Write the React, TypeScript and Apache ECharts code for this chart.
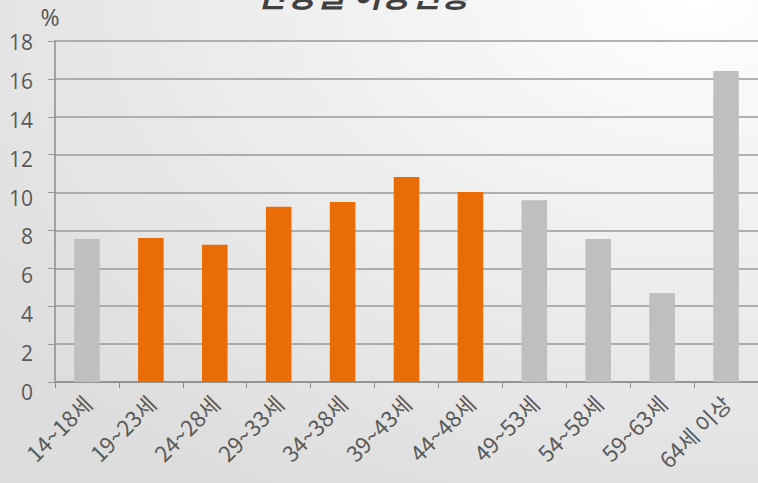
import React, { useEffect, useRef } from "react";
import * as echarts from "echarts";

const titleText = "연령별 이용현황";
const unitLabel = "%";
const categories = ["14~18세", "19~23세", "24~28세", "29~33세", "34~38세", "39~43세", "44~48세", "49~53세", "54~58세", "59~63세", "64세 이상"];
const values = [7.55, 7.6, 7.25, 9.25, 9.5, 10.82, 10.03, 9.6, 7.55, 4.7, 16.42];
const highlighted = [false, true, true, true, true, true, true, false, false, false, false];

const ORANGE = "#E96C07";
const GRAY = "#BFBFBF";
const FONT = "'Open Sans', 'Noto Sans CJK KR', sans-serif";

export default function App() {
  const ref = useRef<HTMLDivElement>(null);
  useEffect(() => {
    if (!ref.current) return;
    const chart = echarts.init(ref.current, null, { renderer: "svg" });
    chart.setOption({
      animation: false,
      backgroundColor: {
        type: "radial",
        x: 0.92,
        y: 0.0,
        r: 1.15,
        colorStops: [
          { offset: 0, color: "#ffffff" },
          { offset: 0.3, color: "#f4f4f4" },
          { offset: 0.7, color: "#e7e7e7" },
          { offset: 1, color: "#dddddd" },
        ],
      },
      grid: [
        { left: 55, right: 0, top: 41, bottom: 101, containLabel: false },
        { left: 55, right: 0, top: 42, bottom: 91, containLabel: false },
      ],
      graphic: [
        {
          type: "text",
          x: 363,
          y: -23,
          style: {
            text: titleText,
            fontSize: 32,
            fontWeight: "bold",
            fontStyle: "italic",
            fontFamily: "'Noto Sans CJK KR', sans-serif",
            fill: "#404040",
            textAlign: "center",
          },
        },
        {
          type: "text",
          x: 50,
          y: 5,
          style: {
            text: unitLabel,
            fontSize: 23,
            fontFamily: "'Noto Sans', sans-serif",
            fill: "#595959",
            textAlign: "center",
          },
        },
      ],
      xAxis: [
        {
          type: "category",
          gridIndex: 0,
          data: categories,
          boundaryGap: true,
          axisLine: { show: true, lineStyle: { color: "#8c8c8c", width: 1.5 } },
          axisTick: { show: true, length: 6, lineStyle: { color: "#8c8c8c" } },
          axisLabel: {
            interval: 0,
            rotate: 45,
            margin: 17,
            fontSize: 22,
            color: "#595959",
            fontFamily: "'Noto Sans CJK KR', 'Open Sans', sans-serif",
          },
        },
        {
          type: "category",
          gridIndex: 1,
          data: categories,
          show: false,
        },
      ],
      yAxis: [
        {
          type: "value",
          gridIndex: 0,
          min: 0,
          max: 18,
          interval: 2,
          axisLine: { show: true, lineStyle: { color: "#8c8c8c", width: 1.5 } },
          axisTick: { show: true, length: 7, lineStyle: { color: "#9a9a9a" } },
          splitLine: { show: true, lineStyle: { color: "#9a9a9a", width: 1.5 } },
          axisLabel: { show: false },
        },
        {
          type: "value",
          gridIndex: 1,
          min: 0,
          max: 18,
          interval: 2,
          axisLine: { show: false },
          axisTick: { show: false },
          splitLine: { show: false },
          axisLabel: {
            fontSize: 21,
            color: "#595959",
            fontFamily: FONT,
            margin: 22,
          },
        },
      ],
      series: [
        {
          type: "bar",
          xAxisIndex: 0,
          yAxisIndex: 0,
          barWidth: "40%",
          data: values.map((v, i) => ({
            value: v,
            itemStyle: { color: highlighted[i] ? ORANGE : GRAY },
          })),
        },
      ],
    });
    return () => chart.dispose();
  }, []);
  return (
    <div
      ref={ref}
      style={{ position: "absolute", left: 0, top: 0, width: 758, height: 483 }}
    />
  );
}
